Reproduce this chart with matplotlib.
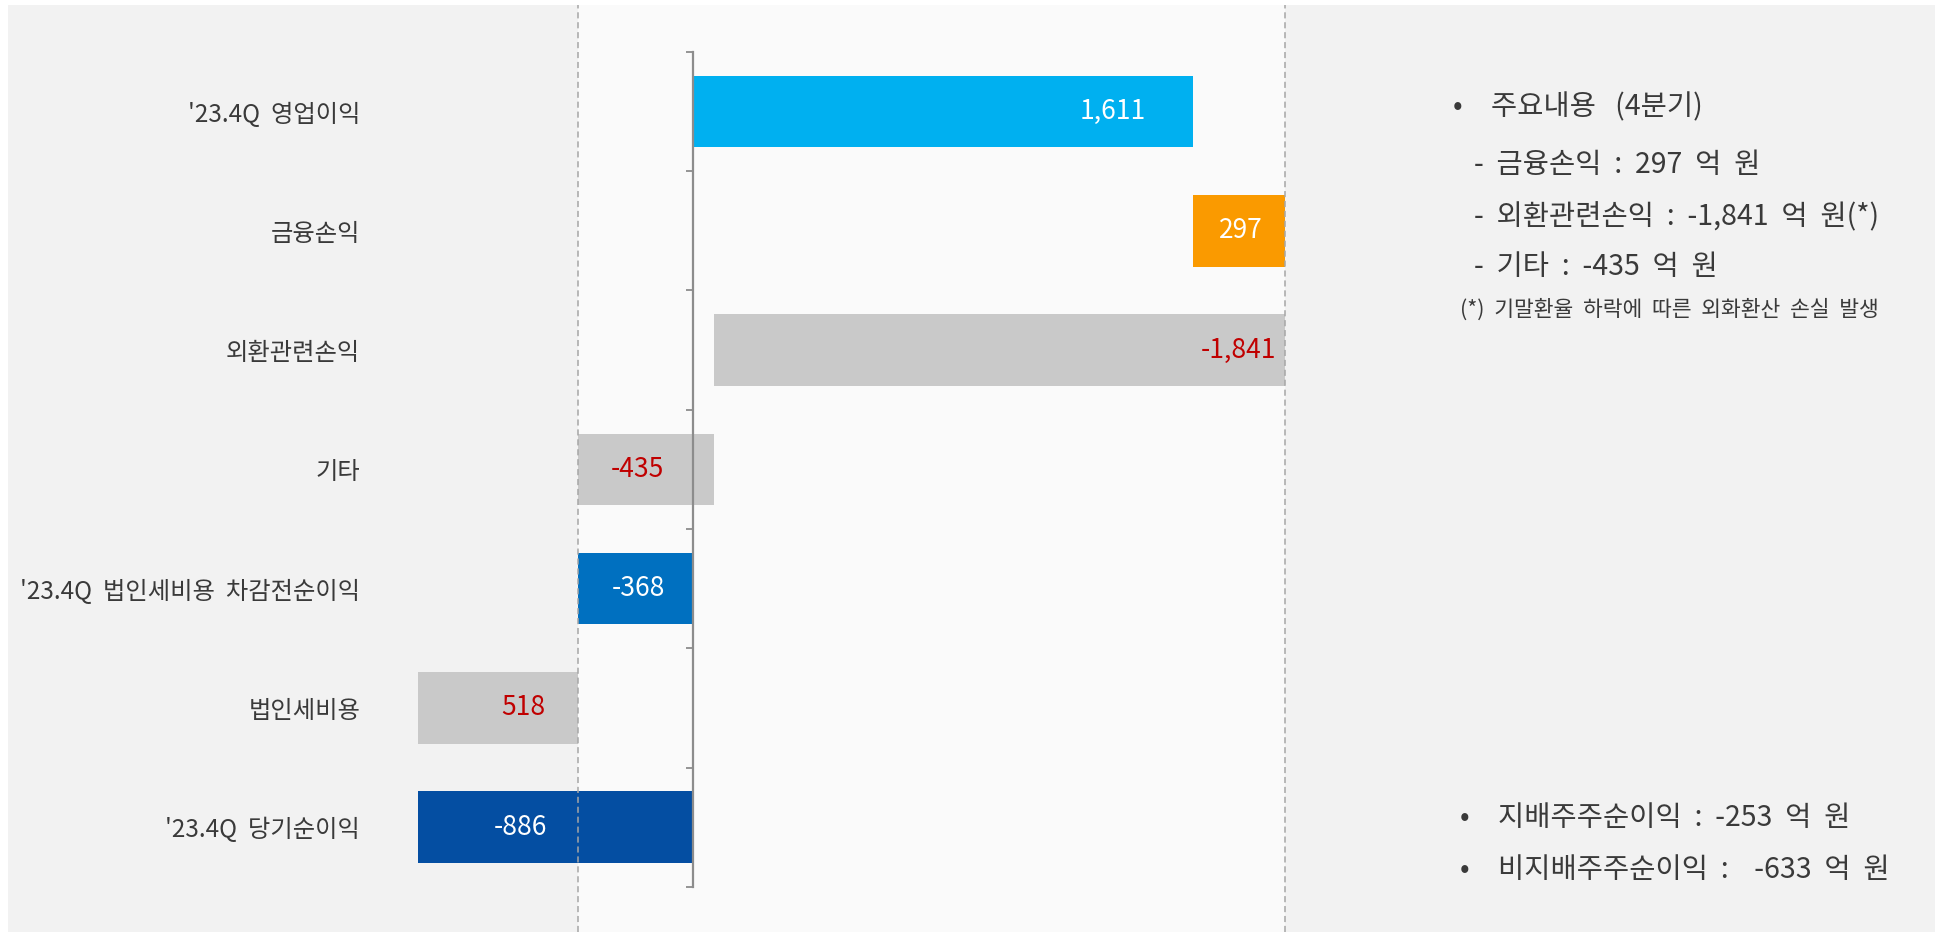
import matplotlib
matplotlib.use("Agg")
import matplotlib.pyplot as plt
from matplotlib.ticker import FixedLocator

plt.rcParams['font.family'] = ['Noto Sans CJK KR', 'DejaVu Sans']

# ---------------- data ----------------
categories = ["'23.4Q  영업이익", "금융손익", "외환관련손익", "기타",
              "'23.4Q  법인세비용  차감전순이익", "법인세비용", "'23.4Q  당기순이익"]
values = [1611, 297, -1841, -435, -368, 518, -886]          # displayed amounts
kinds = ['total', 'change', 'change', 'change', 'total', 'expense', 'total']
bar_colors = ['#00B0F0', '#FA9A00', '#C9C9C9', '#C9C9C9', '#0070C0', '#C9C9C9', '#044EA2']
label_colors = ['white', 'white', '#C00000', '#C00000', 'white', '#C00000', 'white']

notes_top = ["주요내용   (4분기)",
             "-  금융손익  :  297  억  원",
             "-  외환관련손익  :  -1,841  억  원(*)",
             "-  기타  :  -435  억  원"]
footnote = "(*)  기말환율  하락에  따른  외화환산  손실  발생"
notes_bottom = ["지배주주순이익  :  -253  억  원", "비지배주주순이익  :    -633  억  원"]

# label offsets (pixels) from bar centre, layout only
label_offset_px = [170, 2, 239, -9, 3, 25, -35]

# ---------------- waterfall geometry from data ----------------
lefts, widths = [], []
running = 0
for v, k in zip(values, kinds):
    if k == 'total':
        lefts.append(0); widths.append(v); running = v
    elif k == 'change':
        lefts.append(running); widths.append(v); running += v
    else:  # expense subtracts
        lefts.append(running); widths.append(-v); running -= v

cum_max = max(max(l, l + w) for l, w in zip(lefts, widths))
pretax = values[4]

# ---------------- figure ----------------
W, H = 1935, 932
fig = plt.figure(figsize=(W / 100, H / 100), dpi=100, facecolor='white')
ax = fig.add_axes([8 / W, 0, (W - 8) / W, (H - 5) / H])
ax.set_facecolor('#F2F2F2')
ax.set_xlim(-2205, 4000)
ax.set_ylim(6.878, -0.893)

# middle lighter panel with dashed borders
ax.axvspan(pretax, cum_max, color='#FAFAFA', zorder=0, lw=0)
for xv in (pretax, cum_max):
    ax.axvline(xv, color='#A6A6A6', lw=1.1, ls=(0, (4, 2.5)), zorder=4)

ypos = list(range(len(categories)))
ax.barh(ypos, widths, left=lefts, height=0.6, color=bar_colors, zorder=2)

for i, (l, w, v) in enumerate(zip(lefts, widths, values)):
    ax.annotate(f"{v:,}", xy=(l + w / 2, i), xytext=(label_offset_px[i] * 0.72, 0),
                textcoords='offset points', ha='center', va='center',
                fontsize=19, color=label_colors[i], zorder=5)

# axis styling
for s in ('top', 'right', 'bottom'):
    ax.spines[s].set_visible(False)
ax.spines['left'].set_position(('data', 0))
ax.spines['left'].set_bounds(-0.5, len(categories) - 0.5)
ax.spines['left'].set_color('#8C8C8C')
ax.spines['left'].set_linewidth(1.6)
ax.spines['left'].set_zorder(5)
ax.set_xticks([])
ax.set_yticks(ypos)
ax.set_yticklabels(categories, fontsize=17.5, color='#3A3A3A')
ax.yaxis.set_minor_locator(FixedLocator([i - 0.5 for i in range(len(categories) + 1)]))
ax.tick_params(axis='y', which='major', length=0, pad=239.5)
ax.tick_params(axis='y', which='minor', length=5, width=1.3, color='#8C8C8C', direction='out')

# ---------------- notes ----------------
def ftext(xp, yp, s, **kw):
    fig.text(xp / W, 1 - yp / H, s, va='center', ha='left', color='#3A3A3A', **kw)

ftext(1453, 107, "•", fontsize=20.5)
ftext(1491, 107, notes_top[0], fontsize=20.5)
for yp, s in zip((165, 217, 267), notes_top[1:]):
    ftext(1474, yp, s, fontsize=20.5)
ftext(1460, 310, footnote, fontsize=15.5)
for yp, s in zip((818, 870), notes_bottom):
    ftext(1460, yp, "•", fontsize=20.5)
    ftext(1498, yp, s, fontsize=20.5)

fig.savefig('out.png', dpi=100, facecolor='white')
